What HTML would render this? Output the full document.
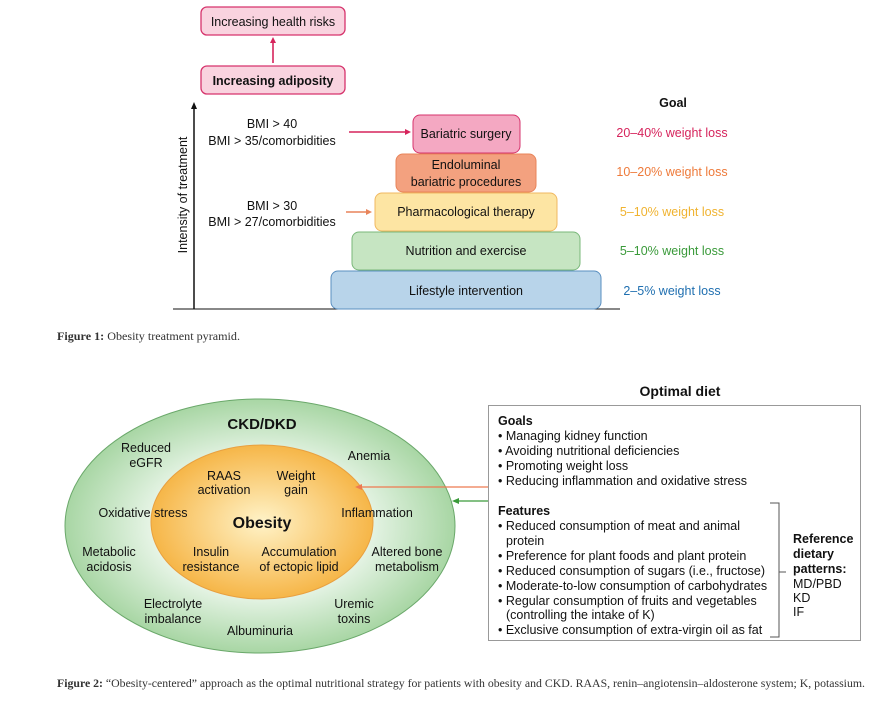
<!DOCTYPE html>
<html><head><meta charset="utf-8"><style>
body{margin:0;background:#fff;}
svg{display:block;font-family:"Liberation Sans",sans-serif;}
.s{font-size:12.5px;fill:#111;}
.c{font-family:"Liberation Serif",serif;font-size:11.5px;fill:#333;}
</style></head><body>
<svg width="890" height="708" viewBox="0 0 890 708">
<defs>
<radialGradient id="go" cx="50%" cy="50%" r="50%"><stop offset="0" stop-color="#fff3c8"/><stop offset="1" stop-color="#f6b648"/></radialGradient>
<radialGradient id="gg" cx="50%" cy="50%" r="50%"><stop offset="0.5" stop-color="#eef8ee"/><stop offset="1" stop-color="#a8d6a4"/></radialGradient>
</defs>
<!-- Fig 1 -->
<rect x="201" y="7" width="144" height="28" rx="6" fill="#f9d3df" stroke="#d6336c" stroke-width="1.3"/>
<text x="273" y="26" class="s" text-anchor="middle">Increasing health risks</text>
<line x1="273" y1="63" x2="273" y2="42" stroke="#d6245c" stroke-width="1.6"/>
<polygon points="273,37 270,43 276,43" fill="#d6245c"/>
<rect x="201" y="66" width="144" height="28" rx="6" fill="#f9d3df" stroke="#d6336c" stroke-width="1.3"/>
<text x="273" y="85" class="s" text-anchor="middle" font-weight="bold">Increasing adiposity</text>
<line x1="194" y1="309" x2="194" y2="108" stroke="#111" stroke-width="1.5"/>
<polygon points="194,102 191,109 197,109" fill="#111"/>
<line x1="173" y1="309" x2="620" y2="309" stroke="#111" stroke-width="1"/>
<text transform="translate(187,195) rotate(-90)" class="s" text-anchor="middle">Intensity of treatment</text>
<rect x="331" y="271" width="270" height="38" rx="7" fill="#b8d4ea" stroke="#5a8fc0"/>
<text x="466" y="295" class="s" text-anchor="middle">Lifestyle intervention</text>
<rect x="352" y="232" width="228" height="38" rx="7" fill="#c6e5c2" stroke="#7ab87a"/>
<text x="466" y="255" class="s" text-anchor="middle">Nutrition and exercise</text>
<rect x="375" y="193" width="182" height="38" rx="7" fill="#fde5a3" stroke="#f0b860"/>
<text x="466" y="216" class="s" text-anchor="middle">Pharmacological therapy</text>
<rect x="396" y="154" width="140" height="38" rx="7" fill="#f3a17f" stroke="#e8845a"/>
<text x="466" y="169" class="s" text-anchor="middle">Endoluminal</text>
<text x="466" y="186" class="s" text-anchor="middle">bariatric procedures</text>
<rect x="413" y="115" width="107" height="38" rx="7" fill="#f4a8c2" stroke="#d6336c"/>
<text x="466" y="138" class="s" text-anchor="middle">Bariatric surgery</text>
<text x="272" y="128" class="s" text-anchor="middle">BMI &gt; 40</text>
<text x="272" y="145" class="s" text-anchor="middle">BMI &gt; 35/comorbidities</text>
<text x="272" y="210" class="s" text-anchor="middle">BMI &gt; 30</text>
<text x="272" y="226" class="s" text-anchor="middle">BMI &gt; 27/comorbidities</text>
<line x1="349" y1="132" x2="406" y2="132" stroke="#d6245c" stroke-width="1.6"/>
<polygon points="411,132 405,129 405,135" fill="#d6245c"/>
<line x1="346" y1="212" x2="367" y2="212" stroke="#e8845a" stroke-width="1.6"/>
<polygon points="372,212 366,209 366,215" fill="#e8845a"/>
<text x="673" y="107" class="s" text-anchor="middle" font-weight="bold">Goal</text>
<text x="672" y="137" class="s" text-anchor="middle" style="fill:#d6245c">20–40% weight loss</text>
<text x="672" y="176" class="s" text-anchor="middle" style="fill:#ee7a3a">10–20% weight loss</text>
<text x="672" y="216" class="s" text-anchor="middle" style="fill:#f0b330">5–10% weight loss</text>
<text x="672" y="255" class="s" text-anchor="middle" style="fill:#3a9a3a">5–10% weight loss</text>
<text x="672" y="295" class="s" text-anchor="middle" style="fill:#1f6fb0">2–5% weight loss</text>
<text x="57" y="340" class="c" textLength="183" lengthAdjust="spacingAndGlyphs"><tspan font-weight="bold">Figure 1:</tspan> Obesity treatment pyramid.</text>
<!-- Fig 2 -->
<ellipse cx="260" cy="526" rx="195" ry="127" fill="url(#gg)" stroke="#6aa86a" stroke-width="1"/>
<ellipse cx="262" cy="522" rx="111" ry="77" fill="url(#go)" stroke="#e8a040" stroke-width="1"/>
<text x="262" y="429" text-anchor="middle" font-weight="bold" font-size="15" fill="#111">CKD/DKD</text>
<text x="262" y="528" text-anchor="middle" font-weight="bold" font-size="16" fill="#111">Obesity</text>
<g class="s" text-anchor="middle">
<text x="146" y="452">Reduced</text><text x="146" y="467">eGFR</text>
<text x="369" y="460">Anemia</text>
<text x="224" y="480">RAAS</text><text x="224" y="494">activation</text>
<text x="296" y="480">Weight</text><text x="296" y="494">gain</text>
<text x="143" y="517">Oxidative stress</text>
<text x="377" y="517">Inflammation</text>
<text x="109" y="556">Metabolic</text><text x="109" y="571">acidosis</text>
<text x="211" y="556">Insulin</text><text x="211" y="571">resistance</text>
<text x="299" y="556">Accumulation</text><text x="299" y="571">of ectopic lipid</text>
<text x="407" y="556">Altered bone</text><text x="407" y="571">metabolism</text>
<text x="173" y="608">Electrolyte</text><text x="173" y="623">imbalance</text>
<text x="354" y="608">Uremic</text><text x="354" y="623">toxins</text>
<text x="260" y="635">Albuminuria</text>
</g>
<line x1="488" y1="487" x2="361" y2="487" stroke="#ee7a50" stroke-width="1.3"/>
<polygon points="355,487 362,484 362,490" fill="#ee7a50"/>
<line x1="488" y1="501" x2="458" y2="501" stroke="#3a9a3a" stroke-width="1.3"/>
<polygon points="452,501 459,498 459,504" fill="#3a9a3a"/>
<text x="680" y="396" text-anchor="middle" font-weight="bold" font-size="14" fill="#111">Optimal diet</text>
<rect x="488.5" y="405.5" width="372" height="235" fill="#fff" stroke="#999"/>
<g class="s">
<text x="498" y="425" font-weight="bold">Goals</text>
<text x="498" y="440">• Managing kidney function</text>
<text x="498" y="455">• Avoiding nutritional deficiencies</text>
<text x="498" y="470">• Promoting weight loss</text>
<text x="498" y="485">• Reducing inflammation and oxidative stress</text>
<text x="498" y="515" font-weight="bold">Features</text>
<text x="498" y="530">• Reduced consumption of meat and animal</text>
<text x="506" y="545">protein</text>
<text x="498" y="560">• Preference for plant foods and plant protein</text>
<text x="498" y="575">• Reduced consumption of sugars (i.e., fructose)</text>
<text x="498" y="590">• Moderate-to-low consumption of carbohydrates</text>
<text x="498" y="605">• Regular consumption of fruits and vegetables</text>
<text x="506" y="619">(controlling the intake of K)</text>
<text x="498" y="634">• Exclusive consumption of extra-virgin oil as fat</text>
<text x="793" y="543" font-weight="bold">Reference</text>
<text x="793" y="558" font-weight="bold">dietary</text>
<text x="793" y="573" font-weight="bold">patterns:</text>
<text x="793" y="588">MD/PBD</text>
<text x="793" y="602">KD</text>
<text x="793" y="616">IF</text>
</g>
<polyline points="770,503 779,503 779,637 770,637" fill="none" stroke="#555" stroke-width="1"/>
<line x1="779" y1="572" x2="786" y2="572" stroke="#555"/>
<text x="57" y="687" class="c" textLength="808" lengthAdjust="spacingAndGlyphs"><tspan font-weight="bold">Figure 2:</tspan> “Obesity-centered” approach as the optimal nutritional strategy for patients with obesity and CKD. RAAS, renin–angiotensin–aldosterone system; K, potassium.</text>
</svg>
</body></html>
